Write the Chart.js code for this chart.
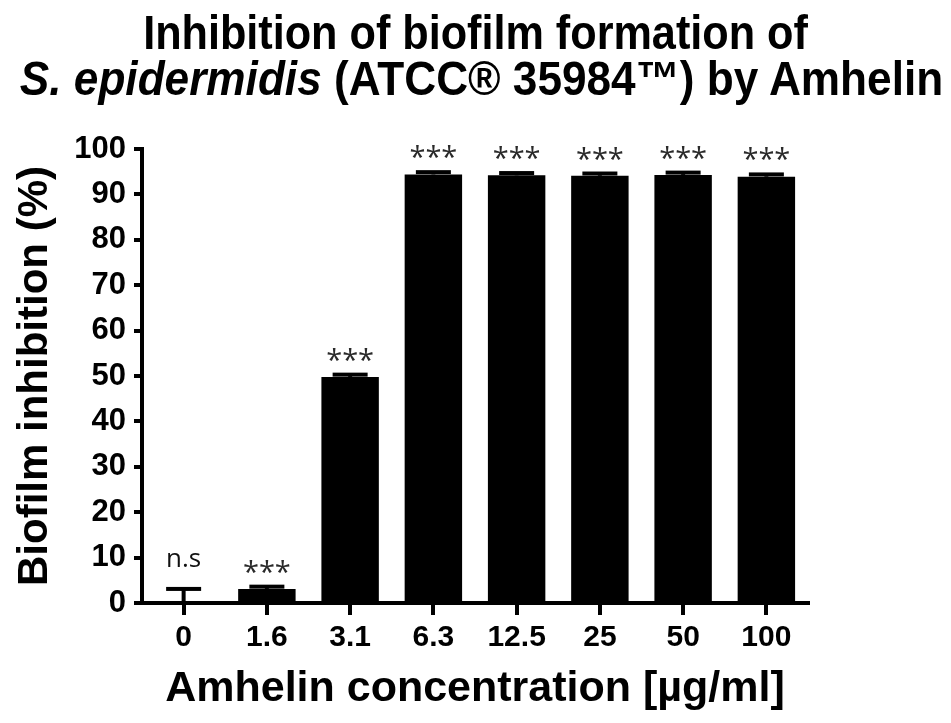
<!DOCTYPE html>
<html>
<head>
<meta charset="utf-8">
<script src="https://cdn.jsdelivr.net/npm/chart.js@4/dist/chart.umd.min.js"></script>
<style>
  html, body { margin: 0; padding: 0; background: #fff; overflow: hidden; }
  #wrap { position: relative; width: 951px; height: 723px; overflow: hidden; }
  #chart { position: absolute; left: 0; top: 0; }
  #title { position: absolute; left: -300px; top: 10px; width: 1551px; text-align: center;
           font-family: 'Liberation Sans', Arial, sans-serif; font-weight: bold; font-size: 48px;
           line-height: 46px; color: #000; }
  #title div { transform: scaleX(0.9); transform-origin: 50% 50%; white-space: nowrap; }
  #title .l2 { transform: scaleX(0.92); margin-left: 12px; }
</style>
</head>
<body>
<div id="wrap">
  <canvas id="chart" width="951" height="723"></canvas>
  <div id="title">
    <div>Inhibition of biofilm formation of</div>
    <div class="l2"><i>S. epidermidis</i> (ATCC® 35984™) by Amhelin</div>
  </div>
</div>
<script>
const categories = ['0', '1.6', '3.1', '6.3', '12.5', '25', '50', '100'];
const inhibitionMean = [0, 3.1, 49.8, 94.4, 94.2, 94.1, 94.3, 93.9];
const inhibitionSD = [3.1, 0.5, 0.5, 0.5, 0.5, 0.5, 0.5, 0.5];
const significance = ['n.s', '***', '***', '***', '***', '***', '***', '***'];
const yTicks = [0, 10, 20, 30, 40, 50, 60, 70, 80, 90, 100];

const FAMILY = "'Liberation Sans', Arial, sans-serif";

const errorBarPlugin = {
  id: 'errorBars',
  afterDatasetsDraw(chart) {
    const ctx = chart.ctx;
    const meta = chart.getDatasetMeta(0);
    const y = chart.scales.y;
    ctx.save();
    meta.data.forEach((bar, i) => {
      const x = bar.x;
      const yMean = y.getPixelForValue(inhibitionMean[i]);
      const yTop = y.getPixelForValue(inhibitionMean[i] + inhibitionSD[i]);
      ctx.fillStyle = '#000';
      ctx.fillRect(x - 2, yTop, 4, yMean - yTop);
      ctx.fillRect(x - 17.5, yTop - 2, 35, 4);
      const lbl = significance[i];
      ctx.textAlign = 'center';
      ctx.textBaseline = 'alphabetic';
      if (lbl === '***') {
        ctx.font = "29px 'Open Sans', sans-serif";
        ctx.fillStyle = '#2a2a2a';
        ctx.fillText(lbl, x, yTop - 2 - 3);
      } else {
        ctx.font = "26px 'Open Sans', sans-serif";
        ctx.fillStyle = '#111';
        ctx.fillText(lbl, x, yTop - 2 - 20);
      }
    });
    ctx.restore();
  }
};

new Chart(document.getElementById('chart'), {
  type: 'bar',
  data: {
    labels: categories,
    datasets: [{
      data: inhibitionMean,
      backgroundColor: '#000',
      borderWidth: 0,
      barPercentage: 0.69,
      categoryPercentage: 1.0
    }]
  },
  options: {
    responsive: false,
    animation: false,
    layout: { padding: { top: 149, right: 143, left: 0, bottom: 0 } },
    plugins: { legend: { display: false }, title: { display: false }, tooltip: { enabled: false } },
    scales: {
      x: {
        offset: true,
        grid: { display: true, offset: false, drawOnChartArea: false, drawTicks: true, tickLength: 12, lineWidth: 4, color: '#000' },
        border: { display: true, width: 4, color: '#000' },
        ticks: { color: '#000', font: { family: FAMILY, size: 30, weight: 'bold' }, padding: 5, maxRotation: 0, autoSkip: false },
        title: { display: true, text: 'Amhelin concentration [µg/ml]', color: '#000',
                 font: { family: FAMILY, size: 43, weight: 'bold' }, padding: { top: 0, bottom: 8 } },
        afterFit(scale) { scale.height = 120; }
      },
      y: {
        min: 0, max: 100,
        afterBuildTicks(scale) { scale.ticks = yTicks.map(v => ({ value: v })); },
        ticks: { color: '#000', font: { family: FAMILY, size: 31, weight: 'bold' }, padding: 8 },
        grid: { display: true, drawOnChartArea: false, drawTicks: true, tickLength: 8, lineWidth: 4, color: '#000' },
        border: { display: true, width: 4, color: '#000' },
        title: { display: true, text: 'Biofilm inhibition (%)', color: '#000',
                 font: { family: FAMILY, size: 42, weight: 'bold' }, padding: { top: 10, bottom: 0 } },
        afterFit(scale) { scale.width = 142; }
      }
    }
  },
  plugins: [errorBarPlugin]
});
</script>
</body>
</html>
